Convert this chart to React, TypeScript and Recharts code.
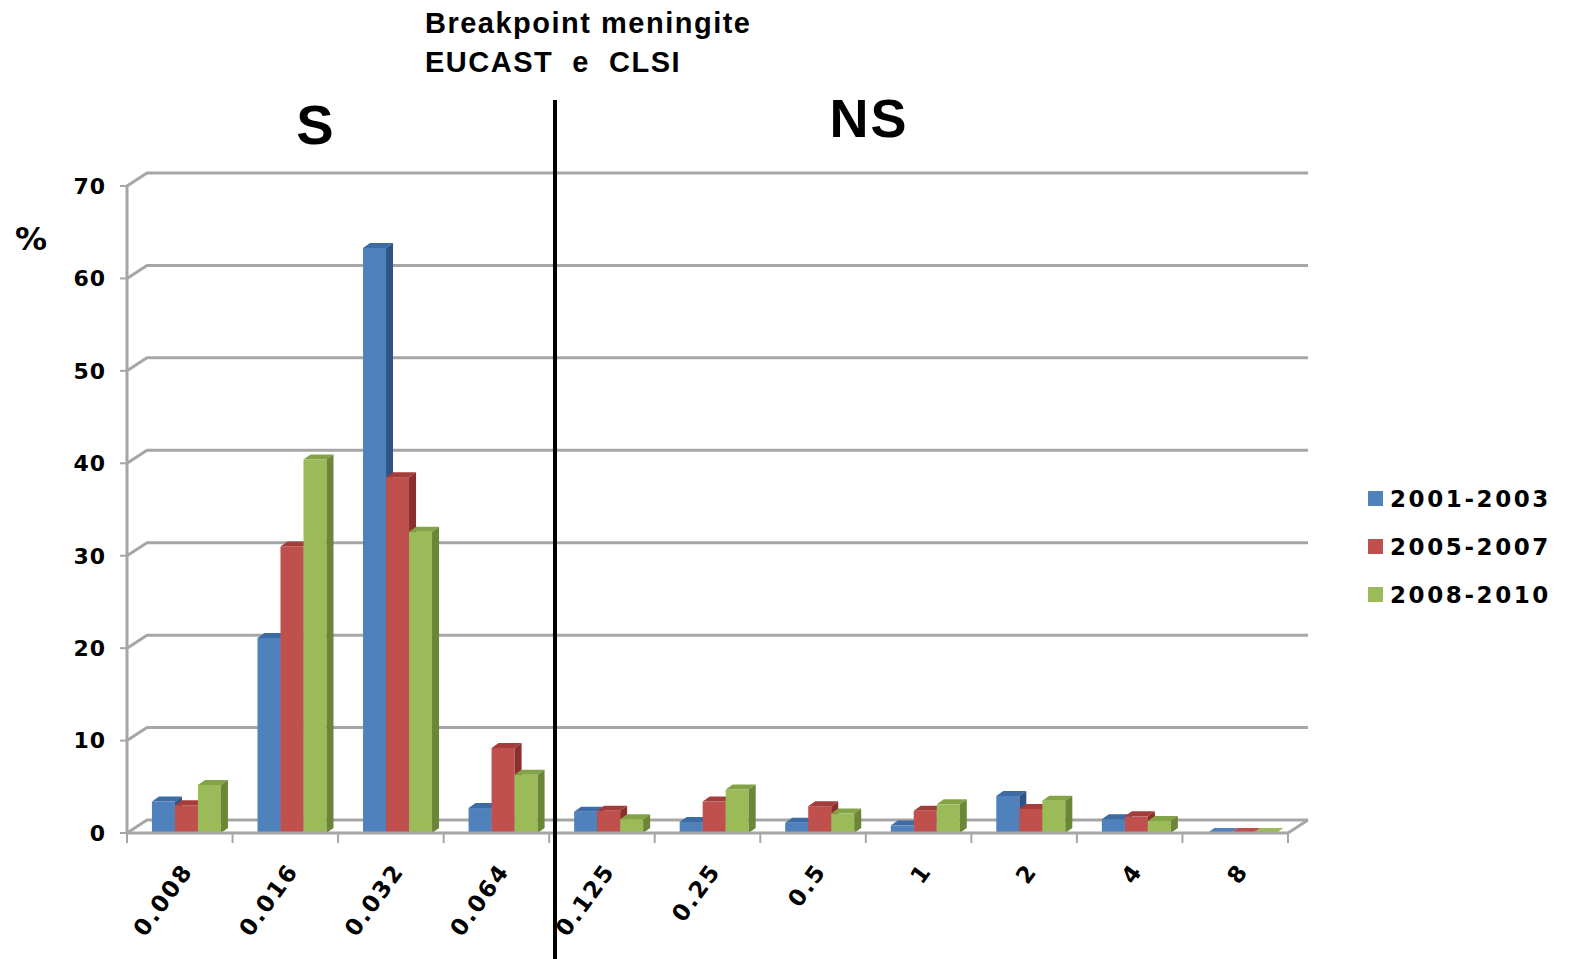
import React from "react"
import { BarChart, Bar, XAxis, YAxis, CartesianGrid, Legend } from "recharts"

const categories = ["0.008", "0.016", "0.032", "0.064", "0.125", "0.25", "0.5", "1", "2", "4", "8"]
const s2001 = [3.4, 21.1, 63.3, 2.7, 2.3, 1.2, 1.1, 0.8, 4.0, 1.5, 0]
const s2005 = [3.0, 31.0, 38.5, 9.2, 2.4, 3.4, 2.9, 2.4, 2.6, 1.8, 0]
const s2008 = [5.2, 40.4, 32.6, 6.3, 1.5, 4.7, 2.1, 3.1, 3.5, 1.3, 0]
const yTicks = [0, 10, 20, 30, 40, 50, 60, 70]

const data = categories.map((c, i) => ({
  mic: c,
  a: s2001[i],
  b: s2005[i],
  c: s2008[i],
}))

const FONT = "'DejaVu Sans', Verdana, sans-serif"
const ARIAL = "'Liberation Sans', Arial, sans-serif"
const GRID = "#A6A6A6"

// front / top / side shades for the fake 3D boxes
const BLUE = ["#4F81BD", "#3D6BA3", "#2F5586"]
const RED = ["#C0504D", "#A43D3A", "#8A2F2D"]
const GREEN = ["#9BBB59", "#84A345", "#6A8636"]

const DX = 7
const DY = 5
const SHIFT = 7
const LEGEND_W = 204

function Box3D(props: any) {
  const { x, y, width, height, shades } = props
  if (x == null || y == null) return null
  const x0 = x + SHIFT
  const w = width
  const h = Math.max(height, 0)
  const [front, top, side] = shades
  const topPts = `${x0},${y} ${x0 + DX},${y - DY} ${x0 + w + DX},${y - DY} ${x0 + w},${y}`
  if (h < 0.5) {
    return (
      <g>
        <polygon points={topPts} fill={front} />
      </g>
    )
  }
  const sidePts = `${x0 + w},${y} ${x0 + w + DX},${y - DY} ${x0 + w + DX},${y + h - DY} ${x0 + w},${y + h}`
  return (
    <g>
      <rect x={x0} y={y} width={w} height={h} fill={front} />
      <polygon points={topPts} fill={top} />
      <polygon points={sidePts} fill={side} />
    </g>
  )
}

// back-wall gridline with the little diagonal on the side wall
function WallLine(props: any) {
  const { x1, x2, y1, index } = props
  const bx = 20
  const by = 13
  return (
    <g key={`wall-${index}`}>
      <path
        d={`M${x1},${y1} L${x1 + bx},${y1 - by} L${x2 + bx},${y1 - by}`}
        fill="none"
        stroke={GRID}
        strokeWidth={3}
      />
      {y1 > 800 && (
        <line x1={x2} y1={y1} x2={x2 + bx} y2={y1 - by} stroke={GRID} strokeWidth={3} />
      )}
    </g>
  )
}

function MicTick(props: any) {
  const { x, y, payload } = props
  const off = payload && payload.offset ? payload.offset : 52.8
  const last = payload && payload.index === categories.length - 1
  return (
    <g>
      <line x1={x - off} y1={y} x2={x - off} y2={y + 10} stroke={GRID} strokeWidth={2} />
      {last && <line x1={x + off} y1={y} x2={x + off} y2={y + 10} stroke={GRID} strokeWidth={2} />}
      <text
        transform={`translate(${x + 14},${y + 38}) rotate(-54)`}
        textAnchor="end"
        fontFamily={FONT}
        fontWeight="bold"
        fontSize={23}
        letterSpacing={2}
        fill="#000"
      >
        {payload.value}
      </text>
    </g>
  )
}

function LegendBox({ payload }: any) {
  return (
    <div style={{ display: "flex", flexDirection: "column", gap: 21 }}>
      {(payload || []).map((p: any) => (
        <div key={p.value} style={{ display: "flex", alignItems: "center", height: 27 }}>
          <span style={{ width: 15, height: 15, background: p.color, marginRight: 7, display: "inline-block" }} />
          <span
            style={{
              fontFamily: FONT,
              fontWeight: "bold",
              fontSize: 23,
              letterSpacing: 2.6,
              color: "#000",
            }}
          >
            {p.value}
          </span>
        </div>
      ))}
    </div>
  )
}

export default function App() {
  return (
    <div style={{ position: "absolute", left: 0, top: 0, width: 1572, height: 959, background: "#fff" }}>
      <BarChart
        width={1572}
        height={959}
        data={data}
        // the legend's width is added to the right side by recharts
        margin={{ top: 186, right: 284 - LEGEND_W, bottom: 0, left: 0 }}
        barCategoryGap="17%"
        barGap={0}
      >
        <CartesianGrid vertical={false} horizontal={WallLine} stroke={GRID} />
        <XAxis
          dataKey="mic"
          height={126}
          interval={0}
          tickLine={false}
          tickSize={0}
          tickMargin={0}
          axisLine={{ stroke: GRID, strokeWidth: 3 }}
          tick={<MicTick />}
        />
        <YAxis
          width={127}
          domain={[0, 70]}
          ticks={yTicks}
          tickSize={7}
          tickMargin={14}
          axisLine={{ stroke: GRID, strokeWidth: 3 }}
          tickLine={{ stroke: GRID, strokeWidth: 2 }}
          tick={{ fontFamily: FONT, fontWeight: "bold", fontSize: 22, fill: "#000", letterSpacing: 1 }}
        />
        <Legend
          layout="horizontal"
          verticalAlign="middle"
          align="right"
          content={<LegendBox />}
          wrapperStyle={{ left: 1368, top: 485, width: LEGEND_W }}
        />
        <Bar dataKey="a" name="2001-2003" fill={BLUE[0]} isAnimationActive={false} shape={(p: any) => <Box3D {...p} shades={BLUE} />} />
        <Bar dataKey="b" name="2005-2007" fill={RED[0]} isAnimationActive={false} shape={(p: any) => <Box3D {...p} shades={RED} />} />
        <Bar dataKey="c" name="2008-2010" fill={GREEN[0]} isAnimationActive={false} shape={(p: any) => <Box3D {...p} shades={GREEN} />} />
      </BarChart>
      <svg
        width={1572}
        height={959}
        style={{ position: "absolute", left: 0, top: 0, pointerEvents: "none" }}
      >
        <line x1={555} y1={100} x2={555} y2={959} stroke="#000" strokeWidth={4} />
        <text x={425} y={33} fontFamily={ARIAL} fontWeight="bold" fontSize={29} letterSpacing={1.5} fill="#000">
          Breakpoint meningite
        </text>
        <text
          x={425}
          y={72}
          fontFamily={ARIAL}
          fontWeight="bold"
          fontSize={29}
          letterSpacing={1.5}
          fill="#000"
          style={{ whiteSpace: "pre" }}
        >
          {"EUCAST  e  CLSI"}
        </text>
        <text x={315} y={144} textAnchor="middle" fontFamily={ARIAL} fontWeight="bold" fontSize={56} fill="#000">
          S
        </text>
        <text x={869} y={137} textAnchor="middle" fontFamily={ARIAL} fontWeight="bold" fontSize={54} letterSpacing={2} fill="#000">
          NS
        </text>
        <text x={31} y={250} textAnchor="middle" fontFamily={FONT} fontWeight="bold" fontSize={32} fill="#000">
          %
        </text>
      </svg>
    </div>
  )
}
